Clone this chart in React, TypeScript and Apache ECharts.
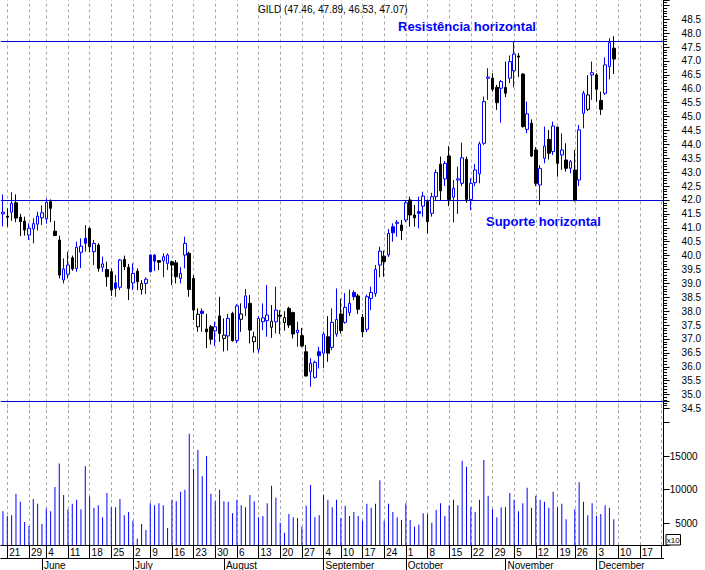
import React, { useEffect, useRef } from 'react';
import * as echarts from 'echarts';

// ---------- data ----------
const SYMBOL = 'GILD';
const START_DATE = '2007-05-18';
const END_DATE = '2007-12-24';
const HOLIDAYS = ['2007-05-28', '2007-07-04', '2007-09-03', '2007-11-22'];
const MONTH_NAMES = ['January', 'February', 'March', 'April', 'May', 'June', 'July', 'August', 'September', 'October', 'November', 'December'];

const OPEN = [
  41.50, 41.42, 41.56, 41.90, 41.38, 41.24, 40.74, 40.96, 41.13, 41.36,
  41.32, 41.94, 40.88, 40.56, 39.12, 39.33, 39.92, 39.54, 40.12, 40.62,
  40.98, 40.14, 40.38, 39.58, 39.50, 39.42, 39.02, 38.86, 39.86, 39.58,
  39.02, 39.44, 38.78, 39.00, 40.02, 40.02, 39.82, 39.81, 39.72, 39.78,
  39.74, 39.18, 40.02, 40.08, 39.18, 37.44, 38.00, 37.36, 37.44, 37.29,
  37.83, 37.02, 37.11, 37.92, 36.95, 37.71, 38.12, 38.28, 36.90, 36.63,
  37.62, 37.66, 37.42, 37.62, 37.86, 37.59, 38.10, 37.95, 37.23, 37.12,
  36.54, 35.82, 35.62, 36.54, 36.49, 37.08, 36.70, 37.18, 37.90, 37.60,
  37.95, 38.67, 38.55, 37.78, 37.35, 38.46, 38.64, 39.66, 39.98, 40.02,
  41.04, 41.16, 41.10, 41.28, 42.00, 41.46, 41.58, 41.78, 41.94, 41.52,
  42.12, 43.29, 42.76, 43.58, 42.10, 42.72, 42.60, 43.46, 42.02, 42.62,
  42.94, 44.04, 46.38, 46.38, 46.05, 46.02, 46.05, 46.38, 46.65, 47.18,
  46.53, 44.54, 44.76, 43.80, 42.54, 43.50, 44.18, 43.74, 44.62, 43.62,
  43.44, 43.14, 43.08, 42.72, 45.12, 45.26, 46.50, 46.50, 45.58, 45.84,
  46.80, 47.46,
];
const HIGH = [
  42.20, 41.70, 42.28, 42.20, 41.50, 41.40, 41.16, 41.34, 41.58, 41.80,
  42.05, 42.02, 41.25, 40.72, 39.90, 40.14, 40.00, 40.50, 40.62, 41.10,
  41.02, 40.56, 40.45, 39.96, 39.78, 39.54, 39.30, 39.88, 40.00, 39.70,
  39.72, 39.54, 39.12, 39.22, 40.05, 40.05, 39.84, 40.08, 40.08, 39.82,
  39.84, 39.58, 40.68, 40.14, 39.30, 38.10, 38.10, 37.90, 37.50, 37.62,
  38.52, 37.74, 37.90, 37.98, 38.25, 38.28, 38.80, 38.58, 37.26, 37.82,
  38.28, 38.94, 38.22, 38.88, 38.04, 38.00, 38.16, 37.98, 37.62, 37.40,
  36.78, 36.31, 36.22, 36.72, 37.26, 37.82, 38.10, 38.82, 38.45, 38.65,
  38.78, 38.75, 38.62, 37.90, 38.60, 38.88, 39.66, 40.32, 40.18, 40.96,
  41.16, 41.28, 41.28, 42.00, 42.12, 41.82, 42.12, 42.30, 42.02, 42.26,
  43.10, 43.56, 43.40, 43.94, 42.72, 43.20, 44.06, 43.56, 42.78, 43.30,
  44.10, 45.72, 46.74, 46.56, 46.14, 46.32, 46.98, 47.20, 47.70, 47.28,
  46.56, 45.54, 44.90, 43.90, 43.26, 44.64, 44.52, 44.82, 44.64, 44.40,
  44.04, 43.44, 43.80, 44.70, 45.93, 46.49, 46.98, 46.56, 45.90, 47.13,
  47.82, 47.89,
];
const LOW = [
  41.05, 41.04, 41.25, 41.20, 40.70, 40.72, 40.56, 40.44, 40.90, 41.10,
  41.15, 41.20, 40.70, 39.18, 39.00, 39.18, 39.45, 39.42, 39.55, 40.14,
  40.12, 39.66, 39.42, 39.42, 38.88, 38.55, 38.52, 38.76, 39.48, 38.40,
  38.76, 38.76, 38.60, 38.62, 39.40, 39.45, 39.48, 39.22, 39.48, 38.94,
  39.00, 39.00, 39.54, 38.52, 37.68, 37.26, 37.26, 36.67, 36.80, 36.75,
  36.90, 36.55, 36.58, 36.90, 36.85, 37.26, 37.82, 36.84, 36.51, 36.51,
  37.32, 37.08, 37.04, 37.20, 37.18, 37.30, 37.40, 37.02, 36.72, 36.70,
  35.65, 35.28, 35.58, 35.94, 35.95, 36.18, 36.60, 37.08, 37.20, 37.55,
  37.83, 38.40, 37.90, 37.06, 37.25, 38.04, 38.52, 39.22, 39.24, 39.95,
  40.50, 40.68, 40.56, 41.20, 41.04, 41.04, 40.98, 41.40, 40.80, 41.40,
  41.98, 42.00, 42.50, 41.78, 41.19, 41.50, 42.50, 41.90, 41.64, 42.50,
  42.60, 43.98, 45.60, 45.90, 45.24, 44.78, 45.70, 46.20, 46.05, 46.42,
  44.60, 44.40, 43.55, 42.50, 41.82, 43.32, 43.46, 43.62, 42.84, 43.08,
  43.02, 42.96, 41.94, 42.50, 44.58, 45.20, 45.60, 45.54, 45.06, 45.78,
  46.34, 46.53,
];
const CLOSE = [
  41.56, 41.38, 41.88, 41.35, 41.22, 40.92, 40.98, 41.15, 41.42, 41.54,
  41.92, 41.70, 40.72, 39.30, 39.52, 39.66, 39.52, 40.30, 40.34, 40.44,
  40.32, 40.44, 39.54, 39.70, 39.24, 38.76, 38.82, 39.84, 39.60, 38.82,
  39.36, 39.06, 39.00, 39.15, 39.42, 39.80, 39.76, 39.96, 40.02, 39.66,
  39.24, 39.36, 40.44, 38.78, 38.04, 37.89, 37.92, 37.26, 36.99, 37.44,
  37.20, 37.14, 37.74, 36.94, 38.19, 37.90, 38.55, 37.32, 37.08, 37.74,
  37.76, 37.86, 37.64, 38.04, 37.82, 37.77, 37.50, 37.18, 37.32, 36.75,
  35.67, 36.13, 36.16, 36.40, 37.17, 36.49, 37.60, 37.70, 37.30, 38.14,
  38.28, 38.52, 38.07, 37.26, 38.52, 38.67, 39.50, 40.16, 39.78, 40.80,
  40.82, 41.20, 40.90, 41.90, 41.46, 41.36, 41.52, 42.14, 41.22, 42.12,
  42.99, 42.33, 43.32, 42.02, 42.42, 42.76, 43.52, 42.02, 42.60, 43.08,
  44.02, 45.54, 46.42, 45.98, 45.50, 46.26, 45.84, 46.98, 47.25, 47.14,
  44.64, 45.10, 43.58, 42.60, 43.14, 43.94, 43.68, 44.66, 43.32, 43.80,
  43.14, 43.38, 42.00, 44.52, 45.84, 45.78, 46.58, 45.98, 45.26, 46.86,
  47.66, 47.07,
];
const VOLUME = [
  6800, 6100, 6200, 9400, 8200, 5200, 4600, 8600, 7900, 4900,
  7200, 6800, 10400, 13900, 9200, 7100, 7900, 8500, 7100, 13500,
  9000, 7300, 7700, 5900, 9500, 7400, 7400, 8600, 6200, 6700,
  5400, 2700, 4900, 4000, 8000, 7700, 8000, 7700, 4300, 8500,
  8300, 9700, 10000, 18300, 13100, 15900, 12000, 15000, 9400, 8300,
  10000, 8300, 8200, 6500, 8500, 7700, 7400, 9200, 8300, 5900,
  6100, 8000, 10600, 8800, 5100, 3600, 6400, 5900, 5800, 4500,
  7600, 10700, 5900, 6200, 9200, 8500, 7400, 8500, 5800, 7600,
  6100, 6700, 6100, 5400, 7900, 7300, 7900, 11400, 5400, 7900,
  6700, 5900, 5500, 8000, 5500, 4500, 4800, 6500, 6400, 5100,
  7000, 8000, 6100, 7700, 8500, 7700, 14300, 13400, 7400, 6700,
  8500, 14400, 9100, 7100, 5900, 7400, 7400, 9500, 8500, 6800,
  8000, 10300, 7300, 9100, 8500, 8200, 7300, 9700, 7400, 7900,
  5600, 1500, 7100, 11100, 8200, 6200, 8000, 6100, 6400, 7700,
  7300, 5600,
];

const PRICE_MIN = 34.5;
const PRICE_MAX = 49.194;
const PRICE_STEP = 0.5;
const PRICE_LABEL_TOP = 48.5;
const VOL_MIN = 1783;
const VOL_MAX = 23180;
const VOL_LABELS = [5000, 10000, 15000];
const RESISTANCE = 47.71;
const SUPPORT = 42.0;
const VOL_MULTIPLIER_TEXT = 'x10';
const RESISTANCE_TEXT = 'Resistência horizontal';
const SUPPORT_TEXT = 'Suporte horizontal';

// ---------- style ----------
const BLUE = '#0000ff';
const LINE_BLUE = '#0000d8';
const BLACK = '#000000';
const WHITE = '#ffffff';
const GRID_GREY = '#a8a8a8';
const FONT = '"Liberation Sans", Arial, Helvetica, sans-serif';

function tradingDays(start: string, end: string, holidays: string[]): string[] {
  const out: string[] = [];
  const d = new Date(start + 'T00:00:00Z');
  const e = new Date(end + 'T00:00:00Z');
  while (d.getTime() <= e.getTime()) {
    const wd = d.getUTCDay();
    const s = d.toISOString().slice(0, 10);
    if (wd !== 0 && wd !== 6 && holidays.indexOf(s) < 0) out.push(s);
    d.setUTCDate(d.getUTCDate() + 1);
  }
  return out;
}

const CATS = tradingDays(START_DATE, END_DATE, HOLIDAYS);
const weekday = (s: string) => new Date(s + 'T00:00:00Z').getUTCDay();
const IS_WEEK_START = CATS.map((c, i) => i > 0 && weekday(c) <= weekday(CATS[i - 1]));
const IS_MONTH_START = CATS.map((c, i) => i > 0 && c.slice(5, 7) !== CATS[i - 1].slice(5, 7));
const LAST_IDX = CATS.length - 1;

function buildOption() {
  const candles = OPEN.map((o, i) => {
    const c = CLOSE[i];
    const prev = i > 0 ? CLOSE[i - 1] : o;
    const col = c >= prev ? BLUE : BLACK;
    const fill = c > o ? WHITE : col;
    return {
      value: [o, c, LOW[i], HIGH[i]],
      itemStyle: { color: fill, color0: fill, borderColor: col, borderColor0: col, borderColorDoji: col, borderWidth: 1 },
    };
  });
  const n = OPEN.length - 1;
  const title = `${SYMBOL} (${OPEN[n].toFixed(2)}, ${HIGH[n].toFixed(2)}, ${LOW[n].toFixed(2)}, ${CLOSE[n].toFixed(2)})`;
  const weekLines = CATS.filter((_, i) => IS_WEEK_START[i]).map((c) => ({ xAxis: c }));
  const dashed = { color: GRID_GREY, type: [3, 3] as any, width: 1 };
  const solidBlue = { color: LINE_BLUE, type: 'solid', width: 1.2 };

  const left = 0.8;
  const right = 41.4;

  return {
    animation: false,
    backgroundColor: '#ffffff',
    textStyle: { fontFamily: FONT },
    title: {
      text: title,
      left: 258,
      top: 3,
      padding: 0,
      textStyle: { fontSize: 10, fontWeight: 'normal', color: BLACK, fontFamily: FONT, lineHeight: 12 },
    },
    grid: [
      { left, right, top: 0, height: 408.5 },
      { left, right, top: 401, height: 144 },
    ],
    xAxis: [
      { type: 'category', gridIndex: 0, data: CATS, boundaryGap: true, show: false },
      {
        type: 'category', gridIndex: 1, data: CATS, boundaryGap: true, position: 'bottom',
        axisLine: { show: true, lineStyle: { color: BLACK, width: 1 } },
        axisTick: { show: true, alignWithLabel: true, length: 13, interval: (i: number) => IS_WEEK_START[i], lineStyle: { color: BLACK, width: 1 } },
        axisLabel: {
          show: true, interval: (i: number) => IS_WEEK_START[i] && i < LAST_IDX,
          formatter: (v: string) => String(Number(v.slice(8, 10))),
          align: 'left', margin: 2, padding: [0, 0, 0, 2], fontSize: 10, color: BLACK, fontFamily: FONT,
        },
        splitLine: { show: false },
      },
      {
        type: 'category', gridIndex: 1, data: CATS, boundaryGap: true, position: 'bottom', offset: 13,
        axisLine: { show: true, lineStyle: { color: BLACK, width: 1 } },
        axisTick: { show: true, alignWithLabel: true, length: 12, interval: (i: number) => IS_MONTH_START[i], lineStyle: { color: BLACK, width: 1 } },
        axisLabel: {
          show: true, interval: (i: number) => IS_MONTH_START[i],
          formatter: (v: string) => MONTH_NAMES[Number(v.slice(5, 7)) - 1],
          align: 'left', margin: 2, padding: [0, 0, 0, 2], fontSize: 10, color: BLACK, fontFamily: FONT,
        },
        splitLine: { show: false },
      },
    ],
    yAxis: [
      {
        type: 'value', gridIndex: 0, position: 'right', min: PRICE_MIN, max: PRICE_MAX, interval: PRICE_STEP,
        axisLine: { show: true, lineStyle: { color: BLACK, width: 1 } },
        axisTick: { show: true, length: 6, lineStyle: { color: BLACK, width: 1 } },
        minorTick: { show: true, splitNumber: 5, length: 3.5, lineStyle: { color: BLACK, width: 1 } },
        splitLine: { show: false },
        axisLabel: {
          formatter: (v: number) => (v > PRICE_LABEL_TOP + 0.01 ? '' : v.toFixed(1)),
          margin: 18, fontSize: 10, color: BLACK, fontFamily: FONT,
        },
      },
      {
        type: 'value', gridIndex: 1, position: 'right', min: VOL_MIN, max: VOL_MAX, splitNumber: 5,
        axisLine: { show: true, lineStyle: { color: BLACK, width: 1 } },
        axisTick: { show: true, length: 6, lineStyle: { color: BLACK, width: 1 } },
        splitLine: { show: false },
        axisLabel: {
          formatter: (v: number) => (VOL_LABELS.indexOf(v) >= 0 ? String(v) : ''),
          align: 'right', margin: 34, fontSize: 10, color: BLACK, fontFamily: FONT,
        },
      },
    ],
    series: [
      {
        type: 'candlestick', xAxisIndex: 0, yAxisIndex: 0, data: candles, barWidth: 3, clip: true,
        markLine: {
          silent: true, symbol: ['none', 'none'], label: { show: false }, z: 1, animation: false,
          data: [
            ...weekLines.map((d) => ({ ...d, lineStyle: dashed })),
            { yAxis: RESISTANCE, lineStyle: solidBlue },
            { yAxis: SUPPORT, lineStyle: solidBlue },
          ],
        },
      },
      {
        type: 'bar', xAxisIndex: 1, yAxisIndex: 1, data: VOLUME, barWidth: 1, itemStyle: { color: BLUE }, clip: true,
        markLine: {
          silent: true, symbol: ['none', 'none'], label: { show: false }, z: 1, animation: false,
          data: [
            ...weekLines.map((d) => ({ ...d, lineStyle: dashed })),
            { yAxis: VOL_MAX, lineStyle: solidBlue },
          ],
        },
      },
    ],
    graphic: [
      {
        type: 'text', x: 398, y: 26, silent: true,
        style: { text: RESISTANCE_TEXT, fill: BLUE, fontSize: 13, fontWeight: 'bold', fontFamily: FONT, verticalAlign: 'middle' },
      },
      {
        type: 'text', x: 486, y: 221.5, silent: true,
        style: { text: SUPPORT_TEXT, fill: BLUE, fontSize: 13, fontWeight: 'bold', fontFamily: FONT, verticalAlign: 'middle' },
      },
      {
        type: 'rect', silent: true, shape: { x: 666, y: 534.5, width: 14.5, height: 10.5 },
        style: { fill: WHITE, stroke: BLACK, lineWidth: 1 },
      },
      {
        type: 'text', x: 673.3, y: 540, silent: true,
        style: { text: VOL_MULTIPLIER_TEXT, fill: BLACK, fontSize: 8, fontFamily: FONT, align: 'center', verticalAlign: 'middle' },
      },
    ],
  };
}

export default function App() {
  const ref = useRef<HTMLDivElement>(null);
  useEffect(() => {
    if (!ref.current) return;
    const chart = echarts.init(ref.current, null, { renderer: 'svg', width: 705, height: 570 });
    chart.setOption(buildOption() as any);
    return () => chart.dispose();
  }, []);
  return (
    <div
      ref={ref}
      style={{ position: 'fixed', left: 0, top: 0, width: 705, height: 570, background: '#ffffff' }}
    />
  );
}
